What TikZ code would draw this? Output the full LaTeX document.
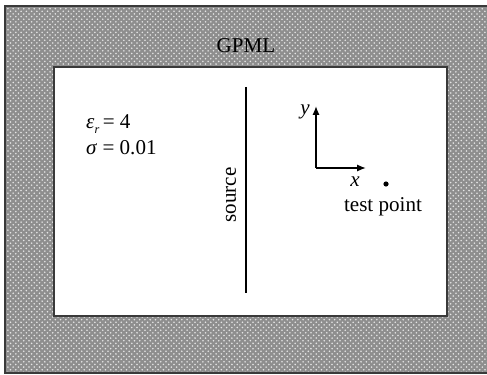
\documentclass[tikz,border=0pt]{standalone}
\usepackage{fontspec}
\setmainfont{Liberation Serif}
\usetikzlibrary{arrows.meta,positioning,patterns}
\definecolor{pmlgray}{HTML}{8E8E8E}
\definecolor{framegray}{HTML}{3A3A3A}

\begin{document}
\begin{tikzpicture}[x=0.02cm,y=-0.02cm,>={Latex[length=5pt,width=4pt]},font=\fontsize{12}{15}\selectfont]
        \useasboundingbox (0,0) rectangle (487,375);
        % outer PML layer
        \fill[pmlgray] (5,6) rectangle (487,373);
        \fill[pattern=crosshatch dots,pattern color=white!80!gray] (5,6) rectangle (487,373);
        \draw[framegray,line width=0.9pt] (487,6) -- (5,6) -- (5,373) -- (487,373);
        % inner medium
        \draw[fill=white,draw=framegray,line width=1pt] (54,67) rectangle (447,316);
        \node (gpml) at (246,46) {GPML};
        \node[anchor=west,align=left] (medium) at (80,135) {\textit{ε}\raisebox{-0.5ex}{\fontsize{7}{8}\selectfont\textit{r}}\,= 4\\\textit{σ} = 0.01};
        % source line
        \coordinate (srctop) at (246,87);
        \coordinate (srcbot) at (246,293);
        \draw[line width=1pt] (srctop) -- (srcbot);
        \node[rotate=90] (srclabel) at (231,195) {source};
        % axes
        \coordinate (orig) at (316,168);
        \coordinate (ytip) at (316,106);
        \coordinate (xtip) at (366,168);
        \draw[->,line width=0.9pt] (orig) -- (ytip);
        \draw[->,line width=0.9pt] (orig) -- (xtip);
        \node (ylab) at (305,112) {\textit{y}};
        \node (xlab) at (355,182) {\textit{x}};
        % test point
        \fill (386,184) circle (2.6);
        \node (testpt) at (383,207) {test point};
\end{tikzpicture}
\end{document}
